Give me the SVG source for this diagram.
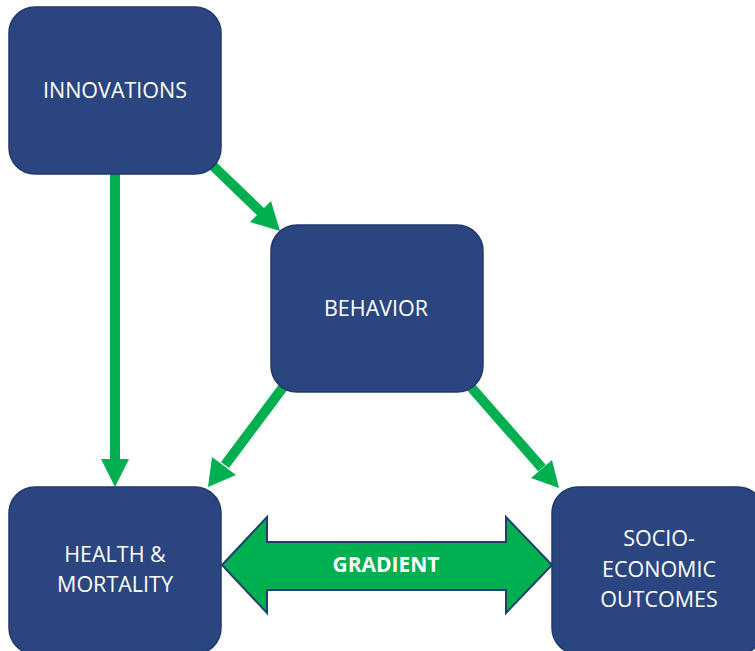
<svg xmlns="http://www.w3.org/2000/svg" width="755" height="651" viewBox="0 0 755 651">
  <style>
    .box { fill: #2b4580; stroke: #22396b; stroke-width: 1.5; }
    .lbl { fill: #ffffff; font-family: "Open Sans", "Lato", "Liberation Sans", sans-serif; font-size: 21.5px; text-anchor: middle; }
    .bold { font-weight: bold; font-size: 21px; }
    .link { stroke: #00b050; stroke-width: 10; fill: none; }
    .head { fill: #00b050; }
  </style>
  <rect width="755" height="651" fill="#ffffff"/>

  <g id="connectors">
    <!-- INNOVATIONS -> HEALTH -->
    <line class="link" x1="115" y1="174" x2="115" y2="462"/>
    <polygon class="head" points="101,459 129,459 115,487"/>
    <!-- INNOVATIONS -> BEHAVIOR -->
    <line class="link" x1="211" y1="164" x2="262" y2="213"/>
    <polygon class="head" points="250,222 271,201 280,231"/>
    <!-- BEHAVIOR -> HEALTH -->
    <line class="link" x1="284" y1="386" x2="225" y2="465"/>
    <polygon class="head" points="212,457 236,475 208,487"/>
    <!-- BEHAVIOR -> SOCIO-ECONOMIC -->
    <line class="link" x1="470" y1="386" x2="542" y2="468"/>
    <polygon class="head" points="531,478 552,460 559,488"/>
    <!-- GRADIENT double arrow -->
    <g id="gradient">
      <polygon points="222,565 267,517 267,542 506,542 506,517 552,565 506,613 506,590 267,590 267,613" fill="#00b050" stroke="#1f3f6e" stroke-width="2" stroke-linejoin="miter"/>
      <text x="386" y="572" class="lbl bold">GRADIENT</text>
    </g>
  </g>

  <g id="innovations">
    <rect class="box" x="9" y="7" width="212" height="167" rx="26"/>
    <text class="lbl" x="115" y="98">INNOVATIONS</text>
  </g>
  <g id="behavior">
    <rect class="box" x="271" y="225" width="212" height="167" rx="26"/>
    <text class="lbl" x="376" y="316">BEHAVIOR</text>
  </g>
  <g id="health">
    <rect class="box" x="9" y="487" width="212" height="167" rx="26"/>
    <text class="lbl" x="115" y="562">HEALTH &amp;</text>
    <text class="lbl" x="115" y="592">MORTALITY</text>
  </g>
  <g id="socio">
    <rect class="box" x="552" y="487" width="212" height="167" rx="26"/>
    <text class="lbl" x="659" y="546">SOCIO-</text>
    <text class="lbl" x="659" y="577">ECONOMIC</text>
    <text class="lbl" x="659" y="607">OUTCOMES</text>
  </g>
</svg>
